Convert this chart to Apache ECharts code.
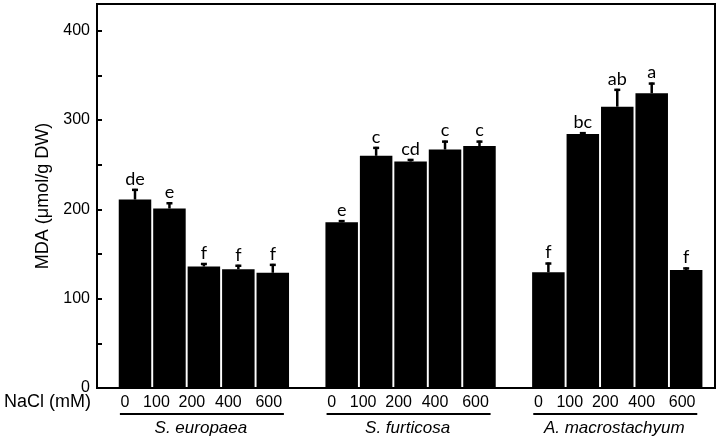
<!DOCTYPE html>
<html><head><meta charset="utf-8">
<script src="https://cdn.jsdelivr.net/npm/echarts@6/dist/echarts.min.js"></script>
<style>html,body{margin:0;padding:0;background:#fff}#c{width:722px;height:442px}</style>
</head><body><div id="c"></div>
<script>
// ---- data ----
const species = ['S. europaea', 'S. furticosa', 'A. macrostachyum'];
const doses = ['0', '100', '200', '400', '600'];
const mdaEuropaea = [211, 201, 136, 133, 129];
const mdaFurticosa = [185.5, 260, 253.5, 267, 271];
const mdaMacro = [129.5, 284.5, 315, 330, 132];
const errEuropaea = [12, 7, 4, 5, 10];
const errFurticosa = [2.5, 10, 3, 10, 6];
const errMacro = [11, 2, 20, 12, 3];
const letEuropaea = ['de', 'e', 'f', 'f', 'f'];
const letFurticosa = ['e', 'c', 'cd', 'c', 'c'];
const letMacro = ['f', 'bc', 'ab', 'a', 'f'];
const yTickLabels = [0, 100, 200, 300, 400];

// ---- build ----
const means = [mdaEuropaea, mdaFurticosa, mdaMacro];
const errs = [errEuropaea, errFurticosa, errMacro];
const lets = [letEuropaea, letFurticosa, letMacro];
const SLOTS_PER_GROUP = doses.length + 1;
const doseOffsets = [-10, -13, -12, -10, -4];

const barData = [];
const errData = [];
const groupData = [];
means.forEach((arr, g) => {
  arr.forEach((v, i) => {
    const slot = g * SLOTS_PER_GROUP + i;
    barData.push({
      name: doses[i], value: [slot, v],
      label: { offset: [doseOffsets[i], 15] }
    });
    errData.push([slot, v, errs[g][i], lets[g][i]]);
  });
  groupData.push([g * SLOTS_PER_GROUP + (doses.length - 1) / 2, species[g]]);
});

const chart = echarts.init(document.getElementById('c'), null, { renderer: 'canvas' });
const FONT = 'Liberation Sans, Arial, sans-serif';

chart.setOption({
  animation: false,
  backgroundColor: '#fff',
  grid: { left: 97, right: 7, top: 4, bottom: 54, show: true, borderColor: '#000', borderWidth: 2, backgroundColor: 'transparent' },
  xAxis: {
    type: 'value', min: -1.103, max: 16.837,
    axisLine: { show: true, onZero: false, lineStyle: { color: '#000', width: 2 } },
    axisTick: { show: false }, axisLabel: { show: false }, splitLine: { show: false }
  },
  yAxis: {
    type: 'value', min: 0, max: 430, interval: 50,
    name: 'MDA (μmol/g DW)', nameLocation: 'middle', nameGap: 43,
    nameTextStyle: { fontSize: 18, color: '#000', fontFamily: FONT },
    axisLine: { show: true, onZero: false, lineStyle: { color: '#000', width: 2 } },
    axisTick: { show: true, inside: true, length: 5, lineStyle: { color: '#000', width: 2 } },
    axisLabel: {
      margin: 7, fontSize: 16, color: '#000', fontFamily: FONT,
      formatter: v => (yTickLabels.indexOf(v) >= 0 ? String(v) : '')
    },
    splitLine: { show: false }
  },
  graphic: [{
    type: 'text', left: 4, top: 393,
    style: { text: 'NaCl (mM)', fontSize: 18, fill: '#000', fontFamily: FONT }
  }],
  series: [
    {
      type: 'bar', data: barData, barWidth: 32.5,
      itemStyle: { color: '#000' },
      label: {
        show: true, position: ['50%', '100%'], align: 'center', verticalAlign: 'middle',
        formatter: '{b}', fontSize: 16, color: '#000', fontFamily: FONT
      },
      z: 3
    },
    {
      type: 'custom', data: errData, z: 4,
      renderItem: (params, api) => {
        const x = api.value(0), v = api.value(1), e = api.value(2);
        const base = api.coord([x, v]);
        const top = api.coord([x, v + e]);
        return {
          type: 'group',
          children: [
            { type: 'line', shape: { x1: base[0], y1: base[1], x2: top[0], y2: top[1] }, style: { stroke: '#000', lineWidth: 2.5 } },
            { type: 'line', shape: { x1: top[0] - 3, y1: top[1] + 1, x2: top[0] + 3, y2: top[1] + 1 }, style: { stroke: '#000', lineWidth: 2.5 } },
            { type: 'text', x: top[0], y: top[1] - 1, style: { text: errData[params.dataIndex][3], fontSize: 18, fill: '#000', fontFamily: 'Lato, Open Sans, sans-serif', align: 'center', verticalAlign: 'bottom' } }
          ]
        };
      }
    },
    {
      type: 'custom', data: groupData, z: 4, clip: false,
      renderItem: (params, api) => {
        const c = api.coord([api.value(0), 0]);
        return {
          type: 'group',
          children: [
            { type: 'line', shape: { x1: c[0] - 84, y1: 414, x2: c[0] + 80, y2: 414 }, style: { stroke: '#000', lineWidth: 2 } },
            { type: 'text', x: c[0] - 3, y: 428, style: { text: groupData[params.dataIndex][1], fontSize: 17, fontStyle: 'italic', fill: '#000', fontFamily: FONT, align: 'center', verticalAlign: 'middle' } }
          ]
        };
      }
    }
  ]
});
</script>
</body></html>
